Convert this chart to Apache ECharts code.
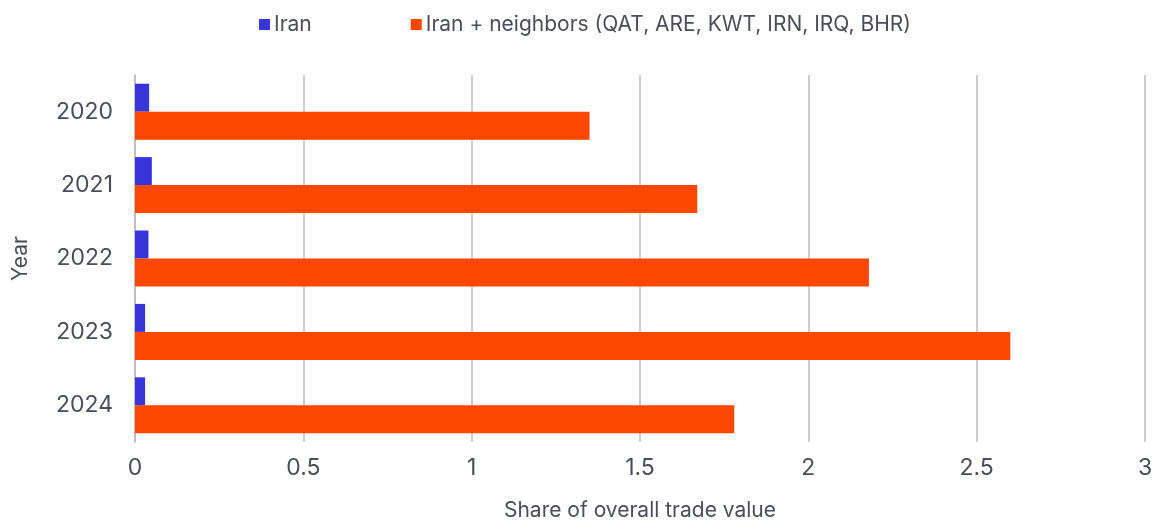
<!DOCTYPE html>
<html>
<head>
<meta charset="utf-8">
<script src="https://cdn.jsdelivr.net/npm/echarts@6/dist/echarts.min.js"></script>
<style>
  html, body { margin: 0; padding: 0; background: #fff; }
  #chart { width: 1154px; height: 524px; }
</style>
</head>
<body>
<div id="chart"></div>
<script>
// data
var years = ['2020', '2021', '2022', '2023', '2024'];
var iran = [0.042, 0.05, 0.04, 0.03, 0.03];
var iranNeighbors = [1.35, 1.67, 2.18, 2.60, 1.78];

var textColor = '#4a4e58';
var font = 'Inter';

var chart = echarts.init(document.getElementById('chart'), null, { renderer: 'canvas' });

chart.setOption({
  animation: false,
  textStyle: { fontFamily: font },
  legend: {
    left: 254,
    top: 9,
    itemWidth: 11,
    itemHeight: 11,
    itemGap: 99,
    icon: 'rect',
    textStyle: { fontSize: 21, color: textColor, fontFamily: font, padding: [0, 0, 0, -1] },
    data: ['Iran', 'Iran + neighbors (QAT, ARE, KWT, IRN, IRQ, BHR)']
  },
  grid: { left: 135, right: 9, top: 75, bottom: 82, outerBoundsMode: 'none', containLabel: false },
  xAxis: {
    type: 'value',
    min: 0,
    max: 3,
    interval: 0.5,
    name: 'Share of overall trade value',
    nameLocation: 'middle',
    nameGap: 58,
    nameTextStyle: { fontSize: 21, color: textColor, fontFamily: font },
    axisLine: { show: false },
    axisTick: { show: false },
    axisLabel: { fontSize: 23, color: textColor, margin: 15, fontFamily: font },
    splitLine: { lineStyle: { color: '#bdbdbd', width: 1.5 } }
  },
  yAxis: {
    type: 'category',
    inverse: true,
    data: years,
    name: 'Year',
    nameLocation: 'middle',
    nameGap: 104,
    nameRotate: 90,
    nameTextStyle: { fontSize: 21, color: textColor, fontFamily: font },
    axisLine: { show: true, lineStyle: { color: '#bdbdbd', width: 1.5 } },
    axisTick: { show: false },
    axisLabel: { fontSize: 23, color: textColor, margin: 22, fontFamily: font }
  },
  series: [
    {
      name: 'Iran',
      type: 'bar',
      data: iran,
      barWidth: 28,
      barGap: '0%',
      itemStyle: { color: '#3636dc' }
    },
    {
      name: 'Iran + neighbors (QAT, ARE, KWT, IRN, IRQ, BHR)',
      type: 'bar',
      data: iranNeighbors,
      barWidth: 28,
      barGap: '0%',
      itemStyle: { color: '#fc4700' }
    }
  ]
});
</script>
</body>
</html>
